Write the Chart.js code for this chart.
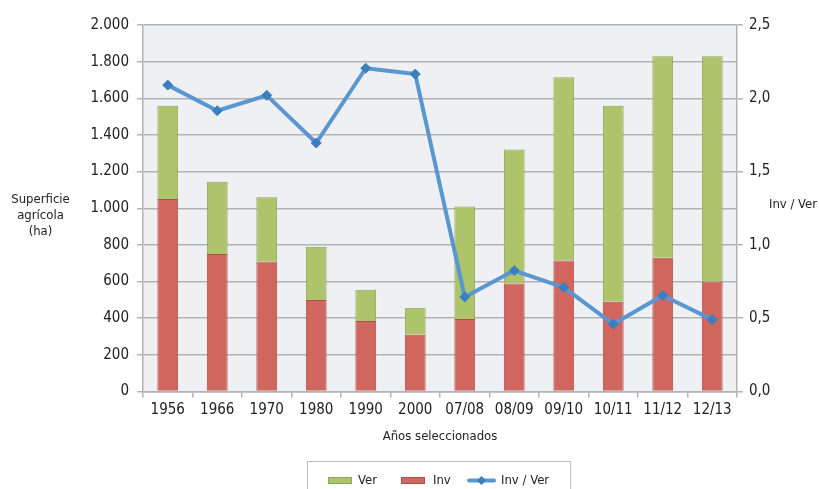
<!DOCTYPE html>
<html>
<head>
<meta charset="utf-8">
<script src="https://cdn.jsdelivr.net/npm/chart.js@4.4.1/dist/chart.umd.min.js"></script>
<style>
html,body{margin:0;padding:0;background:#fff;}
#wrap{width:819px;height:489px;position:relative;}
</style>
</head>
<body>
<div id="wrap"><canvas id="c" width="819" height="489"></canvas></div>
<script>
const categories = ['1956','1966','1970','1980','1990','2000','07/08','08/09','09/10','10/11','11/12','12/13'];
const invValues = [1050, 750, 710, 500, 385, 310, 395, 590, 715, 490, 730, 600];
const verValues = [510, 395, 350, 290, 170, 147, 615, 730, 1000, 1070, 1100, 1230];
const ratioValues = [2.09, 1.915, 2.02, 1.695, 2.205, 2.165, 0.645, 0.825, 0.71, 0.46, 0.655, 0.49];
const leftTitle = ['Superficie', 'agrícola', '(ha)'];
const rightTitle = 'Inv / Ver';
const xTitle = 'Años seleccionados';
const legendLabels = ['Ver', 'Inv', 'Inv / Ver'];

const FONT = "'Liberation Sans Narrow', 'DejaVu Sans Condensed', 'Arial Narrow', sans-serif";
const TXT = '#222';
const GREEN = '#adc46b', GREEN_B = '#8fa656';
const RED = '#d0665e', RED_B = '#b0504a';
const BLUE = '#5a96cf', BLUE_D = '#3a7fc0';
const GRID = '#b3b3b3';

function fmtThousands(v){
  return String(Math.round(v)).replace(/\B(?=(\d{3})+(?!\d))/g, '.');
}

const decor = {
  id: 'decor',
  beforeDraw(chart){
    const {ctx, chartArea:a} = chart;
    ctx.save();
    ctx.fillStyle = '#eef0f3';
    ctx.fillRect(a.left, a.top, a.right - a.left, a.bottom - a.top);
    ctx.restore();
  },
  afterDraw(chart){
    const {ctx, chartArea:a} = chart;
    ctx.save();
    ctx.fillStyle = TXT;
    ctx.textAlign = 'center';
    ctx.textBaseline = 'middle';
    ctx.font = '13px ' + FONT;
    leftTitle.forEach((t,i)=>ctx.fillText(t, 40.5, 200 + i*16));
    ctx.fillText(rightTitle, 793, 205);
    ctx.fillText(xTitle, (a.left + a.right)/2, 437);

    // legend box
    ctx.strokeStyle = '#bfbfbf';
    ctx.lineWidth = 1;
    ctx.strokeRect(307.5, 461.5, 263, 40);
    ctx.textAlign = 'left';
    ctx.font = '13px ' + FONT;
    // Ver
    ctx.fillStyle = GREEN; ctx.fillRect(328, 477, 24, 7);
    ctx.strokeStyle = GREEN_B; ctx.strokeRect(328.5, 477.5, 23, 6);
    ctx.fillStyle = TXT; ctx.fillText(legendLabels[0], 358, 481);
    // Inv
    ctx.fillStyle = RED; ctx.fillRect(401, 477, 24, 7);
    ctx.strokeStyle = RED_B; ctx.strokeRect(401.5, 477.5, 23, 6);
    ctx.fillStyle = TXT; ctx.fillText(legendLabels[1], 433, 481);
    // line
    ctx.strokeStyle = BLUE; ctx.lineWidth = 4; ctx.lineCap = 'round';
    ctx.beginPath(); ctx.moveTo(469, 480.5); ctx.lineTo(494, 480.5); ctx.stroke();
    ctx.fillStyle = BLUE_D;
    ctx.beginPath(); ctx.moveTo(481.5, 476); ctx.lineTo(486, 480.5); ctx.lineTo(481.5, 485); ctx.lineTo(477, 480.5); ctx.closePath(); ctx.fill();
    ctx.fillStyle = TXT; ctx.fillText(legendLabels[2], 501, 481);
    ctx.restore();
  }
};

new Chart(document.getElementById('c'), {
  data: {
    labels: categories,
    datasets: [
      { type:'line', label:'Inv / Ver', data: ratioValues, yAxisID:'y2', order:0,
        borderColor: BLUE, borderWidth: 4, pointStyle:'rectRot', pointRadius:5,
        pointBackgroundColor: BLUE_D, pointBorderColor: BLUE_D, pointBorderWidth:1,
        tension:0, borderJoinStyle:'round' },
      { type:'bar', label:'Inv', data: invValues, yAxisID:'y', order:1, stack:'s',
        backgroundColor: RED, borderColor: RED_B, borderWidth:1,
        barPercentage:0.42, categoryPercentage:1 },
      { type:'bar', label:'Ver', data: verValues, yAxisID:'y', order:2, stack:'s',
        backgroundColor: GREEN, borderColor: GREEN_B, borderWidth:1,
        barPercentage:0.42, categoryPercentage:1 }
    ]
  },
  options: {
    responsive:false, animation:false,
    layout:{ padding:{ top:25, left:0, right:0, bottom:0 } },
    plugins:{ legend:{display:false}, tooltip:{enabled:false} },
    scales:{
      x:{ stacked:true, offset:true,
        grid:{ offset:true, drawOnChartArea:false, drawTicks:true, tickLength:6, color:GRID, tickColor:GRID, lineWidth:1.5 },
        border:{ display:true, color:GRID, width:1.5 },
        ticks:{ color:TXT, font:{family:FONT, size:15}, padding:4, maxRotation:0, autoSkip:false },
        afterFit(s){ s.height = 97.5; }
      },
      y:{ stacked:true, position:'left', min:0, max:2000,
        grid:{ color:GRID, lineWidth:1.5, tickLength:6, tickColor:GRID },
        border:{ display:true, color:GRID, width:1.5 },
        ticks:{ stepSize:200, color:TXT, font:{family:FONT, size:15}, padding:8, callback:v=>fmtThousands(v) },
        afterFit(s){ s.width = 143; }
      },
      y2:{ position:'right', min:0, max:2.5, stacked:false,
        grid:{ drawOnChartArea:false, tickLength:6, color:GRID, tickColor:GRID, lineWidth:1.5 },
        border:{ display:true, color:GRID, width:1.5 },
        ticks:{ stepSize:0.5, color:TXT, font:{family:FONT, size:15}, padding:6, callback:v=>v.toFixed(1).replace('.', ',') },
        afterFit(s){ s.width = 82; }
      }
    }
  },
  plugins:[decor]
});
</script>
</body>
</html>
